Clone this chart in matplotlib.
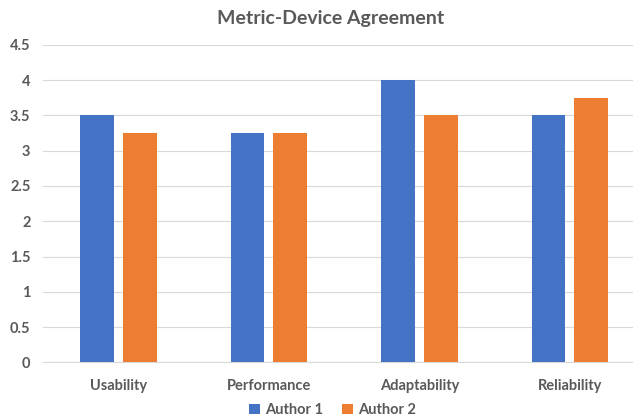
import numpy as np
import matplotlib
matplotlib.use('Agg')
import matplotlib.pyplot as plt

categories = ['Usability', 'Performance', 'Adaptability', 'Reliability']
author1 = [3.5, 3.25, 4.0, 3.5]
author2 = [3.25, 3.25, 3.5, 3.75]
yticks = [0, 0.5, 1, 1.5, 2, 2.5, 3, 3.5, 4, 4.5]
ytick_labels = ['0', '0.5', '1', '1.5', '2', '2.5', '3', '3.5', '4', '4.5']

plt.rcParams['font.family'] = ['Lato', 'DejaVu Sans']
text_color = '#595959'

fig = plt.figure(figsize=(6.33, 4.19), dpi=100)
# plot area runs past the right edge, like the cropped original
ax = fig.add_axes([0.068, 0.135, 0.951, 0.758])

x = np.arange(len(categories))
w = 0.223
ax.bar(x - 0.1425, author1, width=w, color='#4472C4', label='Author 1', zorder=3)
ax.bar(x + 0.1425, author2, width=w, color='#ED7D31', label='Author 2', zorder=3)

ax.set_xlim(-0.5, 3.5)
ax.set_ylim(0, 4.5)
ax.set_yticks(yticks)
ax.set_yticklabels(ytick_labels)
ax.set_xticks(x)
ax.set_xticklabels(categories)
ax.yaxis.grid(True, color='#D9D9D9', linewidth=0.8, zorder=0)
for s in ['top', 'right', 'left']:
  ax.spines[s].set_visible(False)
ax.spines['bottom'].set_color('#D9D9D9')
ax.tick_params(axis='both', length=0, colors=text_color, labelsize=10.5)
ax.tick_params(axis='x', pad=12)
ax.tick_params(axis='y', pad=9)
for lbl in ax.get_xticklabels() + ax.get_yticklabels():
  lbl.set_fontweight('bold')

fig.text(0.523, 0.957, 'Metric-Device Agreement', ha='center', va='center',
         fontsize=14, fontweight='bold', color=text_color)

leg = fig.legend(loc='center', bbox_to_anchor=(0.526, 0.022), ncol=2, frameon=False,
                 handlelength=0.7, handleheight=0.7, handletextpad=0.4, columnspacing=1.3,
                 prop={'weight': 'bold', 'size': 10.5})
for t in leg.get_texts():
  t.set_color(text_color)

fig.savefig('out.png', dpi=100)
